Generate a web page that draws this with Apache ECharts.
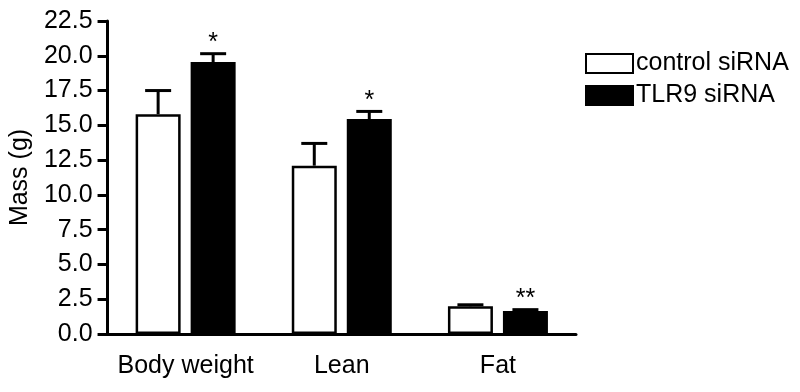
<!DOCTYPE html>
<html>
<head>
<meta charset="utf-8">
<script src="https://cdn.jsdelivr.net/npm/echarts@6/dist/echarts.min.js"></script>
<style>
html,body{margin:0;padding:0;background:#fff;}
#main{width:800px;height:392px;}
</style>
</head>
<body>
<div id="main"></div>
<script>
var categories = ['Body weight', 'Lean', 'Fat'];
var controlMean = [15.8, 12.1, 2.0];
var controlSem = [1.7, 1.6, 0.1];
var tlr9Mean = [19.55, 15.45, 1.65];
var tlr9Sem = [0.6, 0.55, 0.1];
var tlr9Marks = ['*', '*', '**'];
var controlMarks = ['', '', ''];
var yMax = 22.5;
var yStep = 2.5;

var font = 'Liberation Sans, Arial, sans-serif';
var barW = 45;      // rect width, border adds the rest
var barGapPx = 10;
var shift = (barW + barGapPx) / 2;

function errSeries(name, means, sems, side, marks) {
    var data = [];
    for (var i = 0; i < means.length; i++) {
        data.push([i, means[i], sems[i]]);
    }
    return {
        type: 'custom',
        name: name + '_err',
        z: 5,
        silent: true,
        data: data,
        renderItem: function (params, api) {
            var idx = api.value(0);
            var m = api.value(1);
            var top = m + api.value(2);
            var p0 = api.coord([idx, m]);
            var p1 = api.coord([idx, top]);
            var x = p0[0] + side * shift;
            var st = {stroke: '#000', lineWidth: 3};
            var kids = [
                {type: 'line', shape: {x1: x, y1: p0[1], x2: x, y2: p1[1]}, style: st},
                {type: 'line', shape: {x1: x - 13, y1: p1[1], x2: x + 13, y2: p1[1]}, style: st}
            ];
            var mk = marks[params.dataIndex];
            if (mk) {
                kids.push({
                    type: 'text',
                    style: {
                        text: mk, x: x, y: p1[1] + 2,
                        align: 'center', verticalAlign: 'bottom',
                        fill: '#000', font: '25px ' + font
                    }
                });
            }
            return {type: 'group', children: kids};
        }
    };
}

var myChart = echarts.init(document.getElementById('main'));
var option = {
    animation: false,
    backgroundColor: '#fff',
    textStyle: {fontFamily: font, color: '#000'},
    grid: {left: 107, right: 224, top: 21, bottom: 58, containLabel: false},
    legend: {
        orient: 'vertical',
        left: 580,
        top: 46,
        itemWidth: 47,
        itemHeight: 19,
        itemGap: 7,
        icon: 'rect',
        data: ['control siRNA', 'TLR9 siRNA'],
        textStyle: {fontSize: 25, color: '#000', fontFamily: font, padding: [0, 0, 0, -2]}
    },
    xAxis: {
        type: 'category',
        data: categories,
        axisLine: {lineStyle: {color: '#000', width: 3}},
        axisTick: {alignWithLabel: true, interval: 0, length: 10, lineStyle: {width: 3, color: '#000'}},
        axisLabel: {interval: 0, fontSize: 25, color: '#000', margin: 20, fontFamily: font}
    },
    yAxis: {
        type: 'value',
        min: 0,
        max: yMax,
        interval: yStep,
        name: 'Mass (g)',
        nameLocation: 'middle',
        nameGap: 67,
        nameTextStyle: {fontSize: 25, color: '#000', fontFamily: font},
        splitLine: {show: false},
        axisLine: {show: true, lineStyle: {color: '#000', width: 3}},
        axisTick: {show: true, length: 10, lineStyle: {width: 3, color: '#000'}},
        axisLabel: {
            fontSize: 25, color: '#000', margin: 15, fontFamily: font,
            formatter: function (v) { return v.toFixed(1); }
        }
    },
    series: [
        {
            name: 'control siRNA',
            type: 'bar',
            barWidth: barW,
            barGap: (barGapPx / barW * 100) + '%',
            data: controlMean,
            itemStyle: {color: '#fff', borderColor: '#000', borderWidth: 2.5}
        },
        {
            name: 'TLR9 siRNA',
            type: 'bar',
            barWidth: barW,
            data: tlr9Mean,
            itemStyle: {color: '#000', borderColor: '#000', borderWidth: 2.5}
        },
        errSeries('control siRNA', controlMean, controlSem, -1, controlMarks),
        errSeries('TLR9 siRNA', tlr9Mean, tlr9Sem, 1, tlr9Marks)
    ]
};
myChart.setOption(option, true);
</script>
</body>
</html>
